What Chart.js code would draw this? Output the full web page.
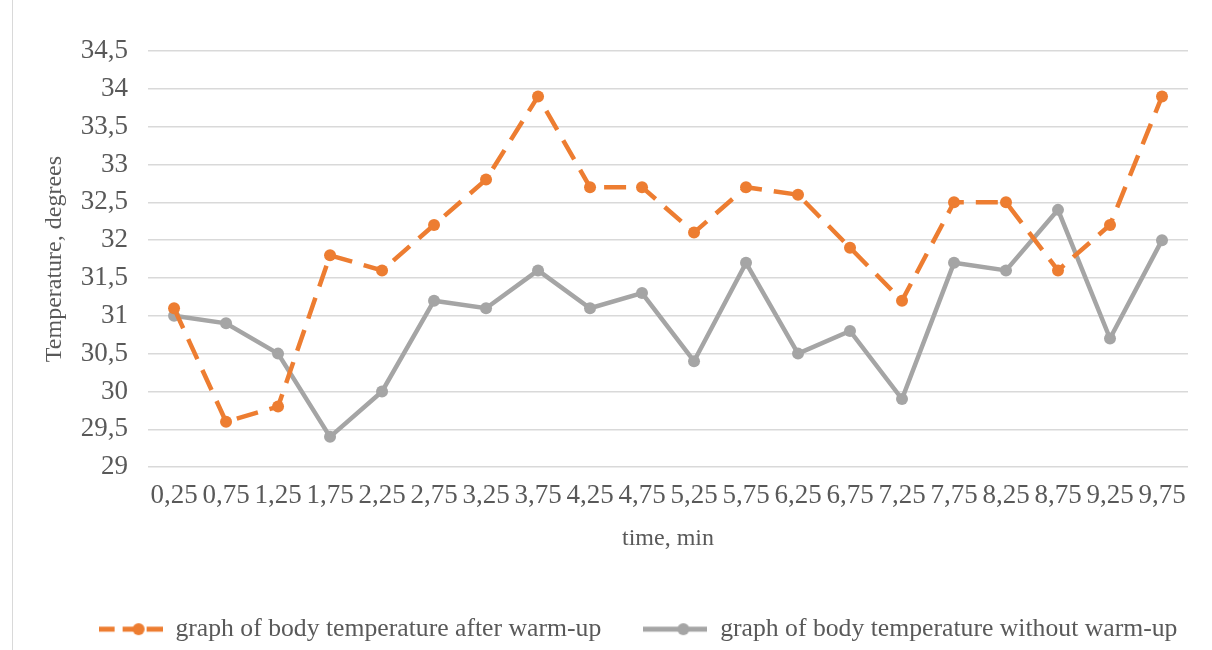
<!DOCTYPE html>
<html>
<head>
<meta charset="utf-8">
<script src="https://cdn.jsdelivr.net/npm/chart.js@4.4.1/dist/chart.umd.min.js"></script>
<style>
  html, body { margin: 0; padding: 0; background: #fff; }
  #wrap { position: relative; width: 1212px; height: 650px; }
  #frame { position: absolute; left: 12px; top: 0; width: 1px; height: 650px; background: #d9d9d9; }
</style>
</head>
<body>
<div id="wrap">
  <div id="frame"></div>
  <canvas id="grafico" width="1212" height="650"></canvas>
</div>
<script>
// time, min
const etiquetas_tiempo = ["0,25", "0,75", "1,25", "1,75", "2,25", "2,75", "3,25", "3,75", "4,25", "4,75",
  "5,25", "5,75", "6,25", "6,75", "7,25", "7,75", "8,25", "8,75", "9,25", "9,75"];
// temperatura despues del calentamiento
const temp_con_calentamiento = [31.1, 29.6, 29.8, 31.8, 31.6, 32.2, 32.8, 33.9, 32.7, 32.7,
  32.1, 32.7, 32.6, 31.9, 31.2, 32.5, 32.5, 31.6, 32.2, 33.9];
// temperatura sin calentamiento
const temp_sin_calentamiento = [31.0, 30.9, 30.5, 29.4, 30.0, 31.2, 31.1, 31.6, 31.1, 31.3,
  30.4, 31.7, 30.5, 30.8, 29.9, 31.7, 31.6, 32.4, 30.7, 32.0];

const naranja = "#ED7D31";
const gris = "#A5A5A5";
const fuente = "'Liberation Serif', 'Times New Roman', serif";

// icono de leyenda: linea + punto como en Excel
function iconoLeyenda(color, dash) {
  const c = document.createElement("canvas");
  c.width = 64;
  c.height = 14;
  const g = c.getContext("2d");
  g.strokeStyle = color;
  g.lineWidth = 5;
  g.setLineDash(dash);
  g.beginPath();
  g.moveTo(0, 7);
  g.lineTo(64, 7);
  g.stroke();
  g.fillStyle = color;
  g.beginPath();
  g.arc(40, 7, 6, 0, Math.PI * 2);
  g.fill();
  return c;
}

// corre la leyenda un poco a la derecha (en el original no esta centrada)
const plugin_mover_leyenda = {
  id: "moverLeyenda",
  afterLayout: (chart) => {
    chart.legend.left += 26;
    chart.legend.right += 26;
  },
};

const ctx = document.getElementById("grafico").getContext("2d");
const chart_temp = new Chart(ctx, {
  type: "line",
  data: {
    labels: etiquetas_tiempo,
    datasets: [
      {
        label: "graph of body temperature after warm-up",
        data: temp_con_calentamiento,
        borderColor: naranja,
        backgroundColor: naranja,
        borderWidth: 4.5,
        borderDash: [22, 12],
        pointRadius: 6,
        pointBorderWidth: 0,
        pointHoverRadius: 6,
        tension: 0,
      },
      {
        label: "graph of body temperature without warm-up",
        data: temp_sin_calentamiento,
        borderColor: gris,
        backgroundColor: gris,
        borderWidth: 4.5,
        pointRadius: 6,
        pointBorderWidth: 0,
        pointHoverRadius: 6,
        tension: 0,
      },
    ],
  },
  options: {
    responsive: false,
    animation: false,
    layout: {
      padding: { top: 51, right: 24, left: 36, bottom: -2 },
    },
    plugins: {
      legend: {
        position: "bottom",
        labels: {
          usePointStyle: true,
          pointStyleWidth: 64,
          color: "#595959",
          font: { family: fuente, size: 25.7 },
          padding: 10,
          generateLabels: (chart) =>
            chart.data.datasets.map((ds, i) => ({
              // espacios finales para separar las dos entradas
              text: i === 0 ? ds.label + "     " : ds.label,
              fontColor: "#595959",
              pointStyle: iconoLeyenda(ds.borderColor, i === 0 ? [16, 8] : []),
              datasetIndex: i,
              hidden: false,
              lineWidth: 0,
            })),
        },
      },
      tooltip: { enabled: false },
    },
    scales: {
      x: {
        offset: true,
        grid: { display: false },
        border: { display: false },
        ticks: {
          color: "#595959",
          font: { family: fuente, size: 27 },
          maxRotation: 0,
          autoSkip: false,
          padding: 5,
        },
        title: {
          display: true,
          text: "time, min",
          color: "#595959",
          font: { family: fuente, size: 24 },
          padding: { top: 7, bottom: 53 },
        },
      },
      y: {
        min: 29,
        max: 34.5,
        grid: { color: "#d9d9d9", lineWidth: 1.5, drawTicks: false },
        border: { display: false },
        ticks: {
          stepSize: 0.5,
          color: "#595959",
          font: { family: fuente, size: 27 },
          padding: 20,
          callback: function (value) {
            return String(value).replace(".", ",");
          },
        },
        title: {
          display: true,
          text: "Temperature, degrees",
          color: "#595959",
          font: { family: fuente, size: 24 },
          padding: { top: 4, bottom: -8 },
        },
      },
    },
  },
  plugins: [plugin_mover_leyenda],
});
</script>
</body>
</html>
